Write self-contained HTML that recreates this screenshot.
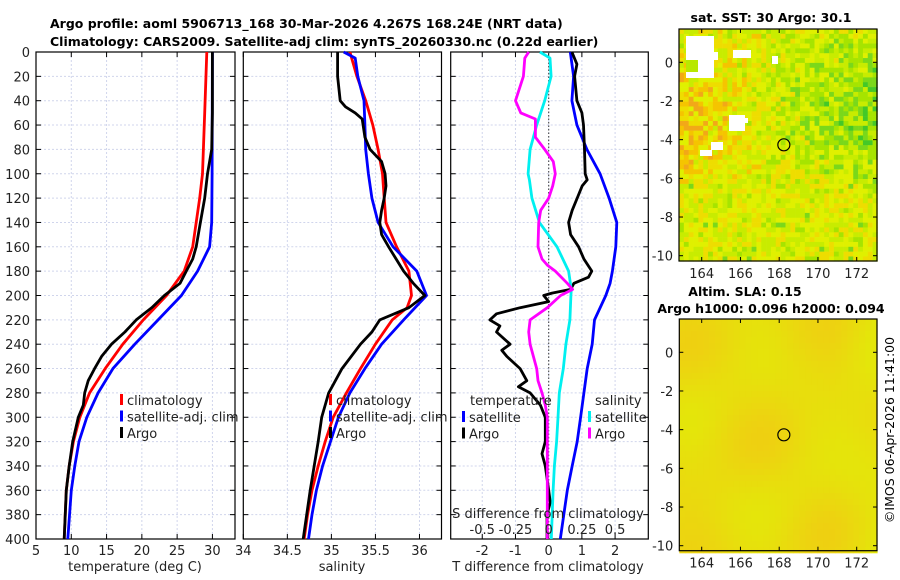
<!DOCTYPE html>
<html><head><meta charset="utf-8">
<style>
html,body{margin:0;padding:0;background:#fff;}
svg{display:block;font-family:"DejaVu Sans","Liberation Sans",sans-serif;}
</style></head>
<body>
<svg id="fig" width="900" height="580" viewBox="0 0 900 580" xmlns="http://www.w3.org/2000/svg">
<text x="50" y="28" font-size="12.5" font-weight="bold" text-anchor="start">Argo profile: aoml 5906713_168 30-Mar-2026 4.267S 168.24E (NRT data)</text>
<text x="50" y="46" font-size="12.5" font-weight="bold" text-anchor="start">Climatology: CARS2009. Satellite-adj clim: synTS_20260330.nc (0.22d earlier)</text>
<text x="771" y="22" font-size="12.5" font-weight="bold" text-anchor="middle">sat. SST: 30 Argo: 30.1</text>
<text x="745" y="296" font-size="12.5" font-weight="bold" text-anchor="middle">Altim. SLA: 0.15</text>
<text x="771" y="313" font-size="12.5" font-weight="bold" text-anchor="middle">Argo h1000: 0.096 h2000: 0.094</text>
<text transform="translate(894,430) rotate(-90)" font-size="12.5" text-anchor="middle">©IMOS 06-Apr-2026 11:41:00</text>
<g id="g"></g>
</svg>
<script>
// ---------- data ----------
const depthT = [0,50,100,120,140,160,180,200,220,240,260,280,300,320,340,360,400];
const tempClim = [29.2,28.9,28.6,28.2,27.7,27.2,26.0,23.5,20.2,17.3,14.8,12.6,11.2,10.3,9.7,9.3,9.0];
const depthTs = [0,100,140,160,180,200,220,240,260,280,300,320,340,360,400];
const tempSat = [30.0,29.95,29.9,29.6,27.9,25.6,22.3,19.0,15.9,13.8,12.2,11.1,10.5,10.0,9.5];
const depthTa = [0,50,80,100,120,140,160,170,180,190,200,210,220,230,240,250,260,270,280,290,300,320,340,360,400];
const tempArgo = [30.0,30.0,29.9,29.3,28.9,28.3,27.7,27.2,26.3,25.4,23.2,21.4,19.2,17.6,15.7,14.3,13.3,12.4,11.9,11.7,11.0,10.2,9.7,9.3,9.0];

const depthSc = [0,20,40,60,80,100,120,140,160,180,200,210,220,240,260,280,300,320,340,360,380,400];
const salClim = [35.21,35.29,35.39,35.47,35.53,35.58,35.60,35.62,35.74,35.88,35.91,35.86,35.69,35.50,35.33,35.17,35.02,34.93,34.85,34.78,34.73,34.69];
const depthSs = [0,5,20,40,60,80,100,120,140,160,180,200,220,240,260,280,300,320,340,360,380,400];
const salSat = [35.14,35.27,35.30,35.37,35.38,35.39,35.42,35.46,35.53,35.70,35.97,36.08,35.82,35.57,35.38,35.21,35.08,34.99,34.90,34.83,34.78,34.74];
const depthSa = [0,20,40,45,50,55,70,80,90,100,110,120,130,140,150,160,180,190,200,210,220,230,240,260,280,300,320,360,400];
const salArgo = [35.07,35.07,35.10,35.16,35.27,35.35,35.38,35.44,35.57,35.61,35.62,35.60,35.57,35.55,35.57,35.65,35.82,35.93,36.06,35.88,35.55,35.46,35.33,35.12,34.97,34.89,34.85,34.76,34.68];

const depthDs = [0,20,40,60,80,100,120,140,160,180,190,200,220,240,260,280,300,320,340,360,400];
const dTsat = [0.65,0.75,0.70,0.85,1.15,1.55,1.82,2.05,2.02,1.92,1.85,1.72,1.38,1.31,1.16,1.06,0.96,0.86,0.71,0.56,0.35];
const depthDa = [0,10,20,40,50,60,80,100,105,110,120,130,140,150,160,170,180,185,190,195,198,200,205,210,215,220,225,230,240,245,250,260,270,275,280,290,300,320,330,340,360,370,380,400];
const dTargo = [0.70,0.85,0.78,0.85,1.00,1.05,1.08,1.10,1.16,1.01,0.86,0.71,0.60,0.66,0.90,1.06,1.30,1.20,0.76,0.66,0.10,-0.15,0.0,-0.86,-1.57,-1.77,-1.47,-1.57,-1.16,-1.41,-1.26,-0.86,-0.66,-0.91,-0.56,-0.25,-0.10,-0.10,-0.20,-0.10,0.0,0.05,-0.05,-0.05];
const depthDss = [0,5,20,40,60,80,100,105,120,140,160,180,195,200,220,240,260,280,300,320,340,360,400];
const dSsat = [-0.066,0.01,0.018,-0.03,-0.09,-0.14,-0.155,-0.145,-0.126,-0.07,0.063,0.15,0.17,0.167,0.16,0.13,0.11,0.08,0.07,0.06,0.043,0.033,0.02];
const depthDsa = [0,5,20,40,50,55,70,80,90,100,110,120,130,140,160,170,175,180,190,195,200,210,220,230,240,260,270,280,290,300,340,400];
const dSargo = [-0.15,-0.18,-0.19,-0.25,-0.21,-0.10,-0.10,-0.03,0.035,0.05,0.03,0.0,-0.06,-0.075,-0.08,-0.05,-0.01,0.05,0.14,0.18,0.09,-0.01,-0.14,-0.15,-0.14,-0.09,-0.08,-0.05,-0.025,-0.01,-0.01,-0.01];

const depthTicks = [0,20,40,60,80,100,120,140,160,180,200,220,240,260,280,300,320,340,360,380,400];
const tTicks = [5,10,15,20,25,30];
const sTicks = [34,34.5,35,35.5,36];
const dTicks = [-2,-1,0,1,2];
const dSTickLabels = ["-0.5","-0.25","0","0.25","0.5"];
const dSTicks = [-0.5,-0.25,0,0.25,0.5];
const lonTicks = [164,166,168,170,172];
const latTicks = [0,-2,-4,-6,-8,-10];
const argoLon = 168.24, argoLat = -4.267;

// ---------- helpers ----------
const NS="http://www.w3.org/2000/svg";
const G=document.getElementById('g');
function mk(tag,attrs,parent){const e=document.createElementNS(NS,tag);for(const k in attrs)e.setAttribute(k,attrs[k]);(parent||G).appendChild(e);return e;}
const Y0=52,Y1=539;
const yD=d=>Y0+d*(Y1-Y0)/400;

function panel(name,x0,x1,xmin,xmax,ticks,labels,showY){
  const g=mk('g',{});
  
  
  const xs=v=>x0+(v-xmin)/(xmax-xmin)*(x1-x0);
  ticks.forEach(v=>{const X=xs(v);if(X>x0+1&&X<x1-1){const l=mk('line',{x1:X,x2:X,y1:Y0,y2:Y1,stroke:'#d0d5ec','stroke-width':1,'stroke-dasharray':'2,2'},g);}});
  depthTicks.forEach(d=>{const Y=yD(d);if(d>0&&d<400){const l=mk('line',{x1:x0,x2:x1,y1:Y,y2:Y,stroke:'#d0d5ec','stroke-width':1,'stroke-dasharray':'2,2'},g);}
    mk('line',{x1:x0,x2:x0+5,y1:Y,y2:Y,stroke:'#000'},g);mk('line',{x1:x1-5,x2:x1,y1:Y,y2:Y,stroke:'#000'},g);
    if(showY){const t=mk('text',{x:x0-6,y:Y+5,'font-size':13,'text-anchor':'end',fill:'#222'},g);t.textContent=d;}
  });
  ticks.forEach((v,i)=>{const X=xs(v);mk('line',{x1:X,x2:X,y1:Y1-5,y2:Y1,stroke:'#000'},g);mk('line',{x1:X,x2:X,y1:Y0,y2:Y0+5,stroke:'#000'},g);
    const t=mk('text',{x:X,y:555,'font-size':13,'text-anchor':'middle',fill:'#222'},g);t.textContent=labels[i];});
  const r=mk('rect',{x:x0,y:Y0,width:x1-x0,height:Y1-Y0,fill:'none',stroke:'#000','stroke-width':1.2},g);
  
  return {g,xs};
}
function line(p,xs,vals,depths,color,name){
  const pts=vals.map((v,i)=>xs(v).toFixed(1)+','+yD(depths[i]).toFixed(1)).join(' ');
  const l=mk('polyline',{points:pts,fill:'none',stroke:color,'stroke-width':2.8,'stroke-linejoin':'round'},p.g);
  
  
}
function legend(g,x,y,items){
  items.forEach((it,i)=>{const yy=y+i*16.5;
    const m=mk('rect',{x:x,y:yy-11,width:3,height:11,fill:it[1]},g);
    
    const t=mk('text',{x:x+7,y:yy,'font-size':13,fill:'#222'},g);t.textContent=it[0];
    });
}
function text(s,x,y,name,anchor){const t=mk('text',{x:x,y:y,'font-size':13,'text-anchor':anchor||'middle',fill:'#222'});t.textContent=s;return t;}

// ---------- panel 1: temperature ----------
const p1=panel('temperature-panel',36,235,5,33.2,tTicks,tTicks.map(String),true);
line(p1,p1.xs,tempClim,depthT,'#ff0000','temp-climatology-line');
line(p1,p1.xs,tempSat,depthTs,'#0000ff','temp-satellite-line');
line(p1,p1.xs,tempArgo,depthTa,'#000000','temp-argo-line');
legend(p1.g,120,405,[['climatology','#ff0000'],['satellite-adj. clim','#0000ff'],['Argo','#000']]);
text('temperature (deg C)',135,571,'x-axis-title-temperature');

// ---------- panel 2: salinity ----------
const p2=panel('salinity-panel',243.3,441.5,34,36.25,sTicks,sTicks.map(String),false);
line(p2,p2.xs,salClim,depthSc,'#ff0000','sal-climatology-line');
line(p2,p2.xs,salSat,depthSs,'#0000ff','sal-satellite-line');
line(p2,p2.xs,salArgo,depthSa,'#000000','sal-argo-line');
legend(p2.g,329,405,[['climatology','#ff0000'],['satellite-adj. clim','#0000ff'],['Argo','#000']]);
text('salinity',342,571,'x-axis-title-salinity');

// ---------- panel 3: differences ----------
const p3=panel('difference-panel',450.7,648.3,-2.95,3.0,dTicks,dTicks.map(String),false);
const xS=v=>p3.xs(v*4);
{const z=p3.xs(0);const l=mk('line',{x1:z,x2:z,y1:Y0,y2:Y1,stroke:'#555','stroke-width':1.2,'stroke-dasharray':'1.5,2'},p3.g);}
line(p3,p3.xs,dTsat,depthDs,'#0000ff','dT-satellite-line');
line(p3,p3.xs,dTargo,depthDa,'#000000','dT-argo-line');
line(p3,xS,dSsat,depthDss,'#00f0f0','dS-satellite-line');
line(p3,xS,dSargo,depthDsa,'#ff00ff','dS-argo-line');
text('temperature',470,405,'legend-title-temperature','start');
legend(p3.g,462,422,[['satellite','#0000ff'],['Argo','#000']]);
text('salinity',595,405,'legend-title-salinity','start');
legend(p3.g,588,422,[['satellite','#00f0f0'],['Argo','#ff00ff']]);
text('S difference from climatology',548,518,'s-axis-title');
dSTicks.forEach((v,i)=>text(dSTickLabels[i],xS(v),534,'s-tick-label'));
text('T difference from climatology',548,571,'x-axis-title-difference');

// ---------- maps ----------
function hash(i,j,s){let h=(i*374761393+j*668265263+s*982451653)|0;h=(h^(h>>>13))*1274126177|0;h=h^(h>>>16);return ((h>>>0)%10000)/10000;}
function mapFrame(name,x0,x1,y0,y1,lat0y,lat10y){
  const g=mk('g',{});
  
  
  const lonS=v=>701.7+(v-164)*19.375;
  const latS=v=>lat0y+(-v)*(lat10y-lat0y)/10;
  return {g,lonS,latS,x0,x1,y0,y1};
}
function mapAxes(m){
  const g=m.g;
  lonTicks.forEach(v=>{const X=m.lonS(v);mk('line',{x1:X,x2:X,y1:m.y1-4,y2:m.y1,stroke:'#000'},g);mk('line',{x1:X,x2:X,y1:m.y0,y2:m.y0+4,stroke:'#000'},g);
    const t=mk('text',{x:X,y:m.y1+17,'font-size':13,'text-anchor':'middle',fill:'#222'},g);t.textContent=v;});
  latTicks.forEach(v=>{const Y=m.latS(v);mk('line',{x1:m.x0,x2:m.x0+4,y1:Y,y2:Y,stroke:'#000'},g);mk('line',{x1:m.x1-4,x2:m.x1,y1:Y,y2:Y,stroke:'#000'},g);
    const t=mk('text',{x:m.x0-6,y:Y+5,'font-size':13,'text-anchor':'end',fill:'#222'},g);t.textContent=v;});
  const r=mk('rect',{x:m.x0,y:m.y0,width:m.x1-m.x0,height:m.y1-m.y0,fill:'none',stroke:'#000','stroke-width':1.2},g);
  
  const c=mk('circle',{cx:m.lonS(argoLon),cy:m.latS(argoLat),r:6,fill:'none',stroke:'#000','stroke-width':1.2},g);
  
}
// SST map
const m1=mapFrame('sst-map',679,877,29,261,62.3,255.7);
{
  const cs=4.84, nx=Math.ceil(198/cs), ny=Math.ceil(232/cs);
  const pal=['#f2a818','#f5c400','#eedd00','#e0f000','#c8ec00','#a6e400','#7ad81a','#44c828','#28b838'];
  const bg=mk('g',{},m1.g);
  for(let i=0;i<nx;i++)for(let j=0;j<ny;j++){
    const u=i/nx, v=j/ny;
    let s=3.0 + 2.6*Math.max(0,u-0.3)*1.6*Math.exp(-Math.pow((v-0.33)/0.3,2));
    s -= 2.0*Math.max(0,0.4-u)*2.5*Math.exp(-Math.pow((v-0.38)/0.22,2));
    s += (hash(i,j,1)-0.5)*3.6;
    if(v>0.65) s = 3.0+(hash(i,j,2)-0.5)*2.4 + (hash(i,j,3)>0.85?1.5:0);
    let k=Math.max(0,Math.min(8,Math.round(s)));
    mk('rect',{x:(679+i*cs).toFixed(2),y:(29+j*cs).toFixed(2),width:cs+0.3,height:cs+0.3,fill:pal[k]},bg);
  }
  [[686,36,28,42],[710,52,8,8],[733,50,18,8],[772,56,6,8],[729,115,16,16],[711,142,12,8],[700,150,12,6],[742,118,6,5]].forEach(w=>{
    const r=mk('rect',{x:w[0],y:w[1],width:w[2],height:w[3],fill:'#fff'},bg);});
  mk('rect',{x:686,y:60,width:12,height:12,fill:'#b8e800'},bg);
}
mapAxes(m1);
// SLA map
const m2=mapFrame('sla-map',679.3,877,319,550.7,352.3,545.7);
{
  const cs=6, nx=Math.ceil(198/cs), ny=Math.ceil(232/cs);
  const bg=mk('g',{},m2.g);
  for(let i=0;i<nx;i++)for(let j=0;j<ny;j++){
    const u=i/nx, v=j/ny;
    let o=0.35+0.3*Math.sin(u*9+1.2)*Math.cos(v*7.5-0.5)+0.1*Math.sin(v*13+u*3);
    o -= 0.35*Math.max(0,u-0.75)*3;
    o=Math.max(0,Math.min(1,o));
    const R=Math.round(228+14*o), Gc=Math.round(230-30*o), B=Math.round(10+10*o);
    mk('rect',{x:(679.3+i*cs).toFixed(1),y:(319+j*cs).toFixed(1),width:cs+0.3,height:cs+0.3,fill:`rgb(${R},${Gc},${B})`},bg);
  }
}
mapAxes(m2);
</script>
</body></html>
